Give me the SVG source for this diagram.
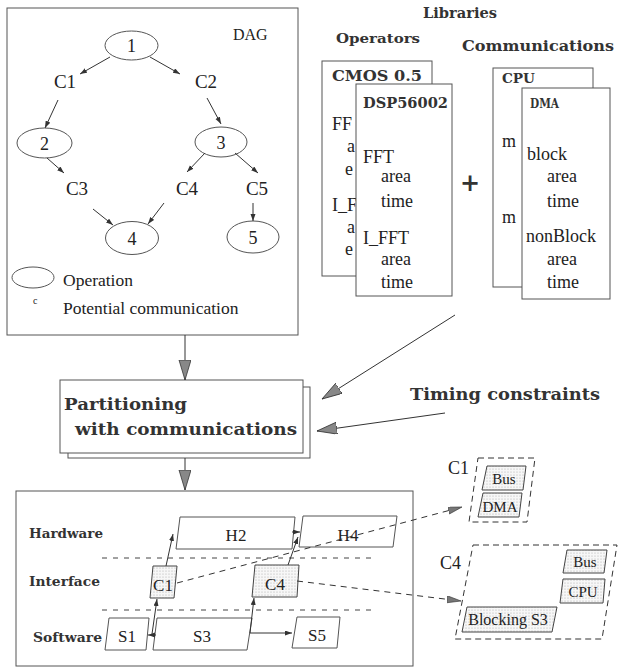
<svg xmlns="http://www.w3.org/2000/svg" width="618" height="667" viewBox="0 0 618 667">
<defs>
<style>
.s{font-family:"Liberation Serif","Times New Roman",serif;fill:#222}
.b{font-family:"DejaVu Serif",serif;font-weight:bold;fill:#333}
.box{fill:#fff;stroke:#555;stroke-width:1}
.ln{stroke:#333;stroke-width:1;fill:none}
.dash{stroke:#333;stroke-width:1;fill:none;stroke-dasharray:6 5}
.sep{stroke:#444;stroke-width:1;fill:none;stroke-dasharray:5 6}
.stip{fill:url(#dots);stroke:#444;stroke-width:1}
.dbox{fill:none;stroke:#333;stroke-width:1;stroke-dasharray:6 4}
.m{text-anchor:middle}
</style>
<pattern id="dots" width="3" height="3" patternUnits="userSpaceOnUse"><rect width="3" height="3" fill="#f7f7f7"/><circle cx="1" cy="1" r="0.55" fill="#aaa"/></pattern>
<marker id="big" markerUnits="userSpaceOnUse" markerWidth="22" markerHeight="14" refX="20" refY="6" orient="auto"><path d="M0,0 L20,6 L0,12 Z" fill="#888" stroke="#333" stroke-width="0.8"/></marker>
<marker id="sm" markerUnits="userSpaceOnUse" markerWidth="9" markerHeight="6" refX="7" refY="2.5" orient="auto"><path d="M0,0 L7,2.5 L0,5 Z" fill="#333"/></marker>
<marker id="mid" markerUnits="userSpaceOnUse" markerWidth="16" markerHeight="8" refX="14" refY="3.5" orient="auto"><path d="M0,0 L14,3.5 L0,7 Z" fill="#777" stroke="#333" stroke-width="0.6"/></marker>
</defs>
<rect width="618" height="667" fill="#fff"/>

<g id="dag">
<rect class="box" x="7" y="8" width="291" height="327"/>
<text class="s" x="233" y="40" font-size="16">DAG</text>
<g id="op1"><ellipse class="box" cx="131.5" cy="45.5" rx="26.5" ry="14.5"/><text class="s m" x="131.5" y="52" font-size="18">1</text></g>
<g id="op2"><ellipse class="box" cx="44.5" cy="143" rx="27.5" ry="15"/><text class="s m" x="44.5" y="149.5" font-size="18">2</text></g>
<g id="op3"><ellipse class="box" cx="221" cy="142" rx="26" ry="15"/><text class="s m" x="221" y="148.5" font-size="18">3</text></g>
<g id="op4"><ellipse class="box" cx="132" cy="238" rx="26.5" ry="16.5"/><text class="s m" x="132" y="244.5" font-size="18">4</text></g>
<g id="op5"><ellipse class="box" cx="253" cy="237" rx="26" ry="16"/><text class="s m" x="253" y="243.5" font-size="18">5</text></g>
<g id="c1"><text class="s m" x="65" y="88" font-size="19">C1</text></g>
<g id="c2"><text class="s m" x="206" y="88" font-size="19">C2</text></g>
<g id="c3"><text class="s m" x="77" y="195" font-size="19">C3</text></g>
<g id="c4"><text class="s m" x="187" y="195" font-size="19">C4</text></g>
<g id="c5"><text class="s m" x="257" y="195" font-size="19">C5</text></g>
<g id="legend">
<ellipse class="box" cx="33" cy="277.5" rx="21" ry="10.5"/>
<text class="s" x="63" y="286" font-size="17.5">Operation</text>
<text class="s" x="33" y="304" font-size="10">c</text>
<text class="s" x="63" y="314" font-size="17.5">Potential communication</text>
</g>
</g>

<g id="dag-edges">
<line class="ln" x1="110" y1="57" x2="80" y2="74" marker-end="url(#sm)"/>
<line class="ln" x1="150" y1="57" x2="180" y2="74" marker-end="url(#sm)"/>
<line class="ln" x1="58" y1="100" x2="45" y2="128" marker-end="url(#sm)"/>
<line class="ln" x1="207" y1="98" x2="221" y2="124" marker-end="url(#sm)"/>
<line class="ln" x1="47" y1="158" x2="64" y2="173" marker-end="url(#sm)"/>
<line class="ln" x1="205" y1="153" x2="187" y2="172" marker-end="url(#sm)"/>
<line class="ln" x1="235" y1="153" x2="258" y2="173" marker-end="url(#sm)"/>
<line class="ln" x1="93" y1="209" x2="113" y2="225" marker-end="url(#sm)"/>
<line class="ln" x1="164" y1="203" x2="148" y2="224" marker-end="url(#sm)"/>
<line class="ln" x1="253" y1="203" x2="253" y2="221" marker-end="url(#sm)"/>
</g>

<g id="libraries">
<text class="b" x="423" y="18" font-size="14" textLength="74" lengthAdjust="spacingAndGlyphs">Libraries</text>
<text class="b" x="336" y="43" font-size="13.5" textLength="84" lengthAdjust="spacingAndGlyphs">Operators</text>
<text class="b" x="462" y="51" font-size="14" textLength="152" lengthAdjust="spacingAndGlyphs">Communications</text>
<g id="cmos">
<rect class="box" x="322" y="61" width="110" height="215"/>
<text class="b" x="332" y="81" font-size="14" textLength="90" lengthAdjust="spacingAndGlyphs">CMOS 0.5</text>
<text class="s" x="332" y="130" font-size="18">FF</text>
<text class="s" x="347" y="152" font-size="18">a</text>
<text class="s" x="345" y="175" font-size="18">e</text>
<text class="s" x="332" y="211" font-size="18">I_F</text>
<text class="s" x="347" y="233" font-size="18">a</text>
<text class="s" x="345" y="255" font-size="18">e</text>
</g>
<g id="dsp">
<rect class="box" x="356" y="84" width="96" height="212"/>
<text class="b" x="363" y="108" font-size="14" textLength="85" lengthAdjust="spacingAndGlyphs">DSP56002</text>
<text class="s" x="363" y="163" font-size="18">FFT</text>
<text class="s" x="381" y="182" font-size="18">area</text>
<text class="s" x="381" y="207" font-size="18">time</text>
<text class="s" x="363" y="244" font-size="18">I_FFT</text>
<text class="s" x="381" y="265" font-size="18">area</text>
<text class="s" x="381" y="288" font-size="18">time</text>
</g>
<text class="b m" x="470" y="191" font-size="24">+</text>
<g id="cpu">
<rect class="box" x="493" y="68" width="100" height="219"/>
<text class="b" x="502" y="83" font-size="13" textLength="33" lengthAdjust="spacingAndGlyphs">CPU</text>
<text class="s" x="502" y="147" font-size="18">m</text>
<text class="s" x="502" y="223" font-size="18">m</text>
</g>
<g id="dma">
<rect class="box" x="522" y="88" width="88" height="211"/>
<text class="b" x="530" y="108" font-size="13" textLength="29" lengthAdjust="spacingAndGlyphs">DMA</text>
<text class="s" x="527" y="160" font-size="18">block</text>
<text class="s" x="547" y="182" font-size="18">area</text>
<text class="s" x="547" y="207" font-size="18">time</text>
<text class="s" x="526" y="242" font-size="18">nonBlock</text>
<text class="s" x="547" y="265" font-size="18">area</text>
<text class="s" x="547" y="288" font-size="18">time</text>
</g>
</g>

<g id="timing">
<text class="b" x="410" y="400" font-size="16.5" textLength="190" lengthAdjust="spacingAndGlyphs">Timing constraints</text>
</g>

<g id="partition">
<rect class="box" x="68" y="387" width="242" height="71"/>
<rect class="box" x="60" y="380" width="243" height="73"/>
<text class="b" x="64" y="410" font-size="17" textLength="123" lengthAdjust="spacingAndGlyphs">Partitioning</text>
<text class="b" x="75" y="435" font-size="17" textLength="222" lengthAdjust="spacingAndGlyphs">with communications</text>
</g>

<g id="result">
<rect class="box" x="16" y="491" width="397" height="175"/>
<text class="b" x="29" y="538" font-size="13" textLength="74" lengthAdjust="spacingAndGlyphs">Hardware</text>
<text class="b" x="29" y="586" font-size="13" textLength="71" lengthAdjust="spacingAndGlyphs">Interface</text>
<text class="b" x="33" y="642" font-size="13" textLength="69" lengthAdjust="spacingAndGlyphs">Software</text>
<line class="sep" x1="102" y1="558" x2="377" y2="558"/>
<line class="sep" x1="102" y1="610" x2="377" y2="610"/>
<g id="h2"><path class="box" d="M180,517 L295,517 L292,549 L176,549 Z"/><text class="s m" x="236" y="541" font-size="17">H2</text></g>
<g id="h4"><path class="box" d="M303,516 L397,516 L393,547 L299,547 Z"/><text class="s m" x="348" y="541" font-size="17">H4</text></g>
<g id="ic1"><path class="stip" d="M153,566 L177,566 L174,598 L150,598 Z"/><text class="s m" x="163" y="591" font-size="17">C1</text></g>
<g id="ic4"><path class="stip" d="M255,565 L299,565 L297,597 L252,597 Z"/><text class="s m" x="275" y="590" font-size="17">C4</text></g>
<g id="s1"><path class="box" d="M109,618 L149,618 L146,650 L105,650 Z"/><text class="s m" x="127" y="642" font-size="17">S1</text></g>
<g id="s3"><path class="box" d="M157,618 L252,618 L247,650 L153,650 Z"/><text class="s m" x="202" y="642" font-size="17">S3</text></g>
<g id="s5"><path class="box" d="M297,617 L340,617 L337,648 L292,648 Z"/><text class="s m" x="317" y="641" font-size="17">S5</text></g>
</g>

<g id="detail-c1">
<path class="dbox" d="M478,458 L535,458 L527,522 L469,522 Z"/>
<text class="s" x="448" y="474" font-size="18">C1</text>
<path class="stip" d="M487,466 L526,466 L523,490 L482,490 Z"/>
<text class="s m" x="504" y="484" font-size="15">Bus</text>
<path class="stip" d="M483,493 L522,493 L519,517 L478,517 Z"/>
<text class="s m" x="500" y="512" font-size="15">DMA</text>
</g>

<g id="detail-c4">
<path class="dbox" d="M473,545 L617,545 L602,639 L455,639 Z"/>
<text class="s" x="440" y="569" font-size="18">C4</text>
<path class="stip" d="M567,550 L607,550 L604,573 L563,573 Z"/>
<text class="s m" x="585" y="567" font-size="15">Bus</text>
<path class="stip" d="M563,579 L605,579 L603,603 L560,603 Z"/>
<text class="s m" x="583" y="597" font-size="15">CPU</text>
<path class="stip" d="M467,607 L557,607 L552,632 L462,632 Z"/>
<text class="s m" x="508" y="625" font-size="16">Blocking S3</text>
</g>

<g id="connectors">
<line class="ln" x1="185" y1="335" x2="185" y2="380" marker-end="url(#big)"/>
<line class="ln" x1="455" y1="315" x2="322" y2="399" marker-end="url(#big)"/>
<line class="ln" x1="445" y1="413" x2="317" y2="431" marker-end="url(#big)"/>
<line class="ln" x1="185" y1="458" x2="185" y2="490" marker-end="url(#big)"/>
<line class="ln" x1="152" y1="634" x2="157" y2="599" marker-end="url(#sm)"/>
<line class="ln" x1="156" y1="635" x2="148" y2="635" marker-end="url(#sm)"/>
<line class="ln" x1="166" y1="566" x2="173" y2="534" marker-end="url(#sm)"/>
<line class="ln" x1="250" y1="633" x2="254" y2="598" marker-end="url(#sm)"/>
<line class="ln" x1="250" y1="633" x2="292" y2="633" marker-end="url(#sm)"/>
<line class="ln" x1="288" y1="565" x2="298" y2="537" marker-end="url(#sm)"/>
<line class="ln" x1="292" y1="532" x2="300" y2="532" marker-end="url(#sm)"/>
<line class="dash" x1="177" y1="583" x2="462" y2="507" marker-end="url(#mid)"/>
<line class="dash" x1="297" y1="581" x2="461" y2="601" marker-end="url(#mid)"/>
</g>
</svg>
